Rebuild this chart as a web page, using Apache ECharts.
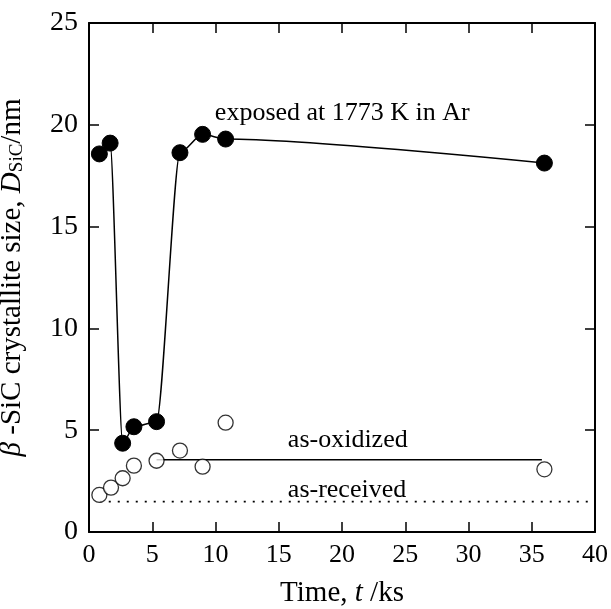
<!DOCTYPE html>
<html><head><meta charset="utf-8">
<script src="https://cdn.jsdelivr.net/npm/echarts@6/dist/echarts.min.js"></script>
<style>html,body{margin:0;padding:0;background:#fff}#c{width:611px;height:609px}</style>
</head><body><div id="c"></div>
<script>
var exposedT = [0.82, 1.67, 2.66, 3.55, 5.34, 7.19, 8.98, 10.8, 36.0];
var exposedD = [18.57, 19.1, 4.36, 5.17, 5.42, 18.63, 19.53, 19.3, 18.12];
var oxidizedT = [0.82, 1.74, 2.66, 3.55, 5.34, 7.19, 8.98, 10.8, 36.0];
var oxidizedD = [1.82, 2.18, 2.64, 3.26, 3.5, 4.0, 3.21, 5.37, 3.08];
var oxidizedLevel = 3.55, oxidizedLineT = [5.34, 35.8];
var receivedLevel = 1.49, receivedLineT = [0.85, 40];
var xTicks = [0, 5, 10, 15, 20, 25, 30, 35, 40];
var yTicks = [0, 5, 10, 15, 20, 25];
var labels = [
  {text: 'exposed at 1773 K in Ar', t: 9.95, d: 20.58},
  {text: 'as-oxidized', t: 15.72, d: 4.52},
  {text: 'as-received', t: 15.72, d: 2.06}
];
var F = 'Liberation Serif, Times New Roman, serif';
function zip(a, b) { return a.map(function (v, i) { return [v, b[i]]; }); }
var chart = echarts.init(document.getElementById('c'));
var axisCommon = {
  axisLine: {show: true, onZero: false, lineStyle: {color: '#000', width: 2}},
  axisTick: {show: true, inside: true, length: 10, lineStyle: {color: '#000', width: 1.5}},
  splitLine: {show: false}
};
chart.setOption({
  backgroundColor: '#fff',
  animation: false,
  grid: {left: 89, top: 23, right: 16, bottom: 77, containLabel: false, outerBoundsMode: 'none'},
  xAxis: [
    Object.assign({type: 'value', min: 0, max: 40, interval: 5, position: 'bottom',
      axisLabel: {fontFamily: F, fontSize: 26, color: '#000', margin: 10},
      name: 'Time, {i|t} /ks', nameLocation: 'middle', nameGap: 47,
      nameTextStyle: {fontFamily: F, fontSize: 29, color: '#000',
        rich: {i: {fontFamily: F, fontSize: 29, fontStyle: 'italic', color: '#000'}}}
    }, axisCommon),
    Object.assign({type: 'value', min: 0, max: 40, interval: 5, position: 'top',
      axisLabel: {show: false}}, axisCommon)
  ],
  yAxis: [
    Object.assign({type: 'value', min: 0, max: 25, interval: 5, position: 'left',
      axisLabel: {fontFamily: F, fontSize: 28, color: '#000', margin: 11},
      name: '{i|β} -SiC crystallite size, {i|D}{s|SiC}/nm', nameLocation: 'middle', nameGap: 62,
      nameTextStyle: {fontFamily: F, fontSize: 29, color: '#000',
        rich: {
          i: {fontFamily: F, fontSize: 29, fontStyle: 'italic', color: '#000'},
          s: {fontFamily: F, fontSize: 19, color: '#000', padding: [10, 0, 0, 0]}
        }}
    }, axisCommon),
    Object.assign({type: 'value', min: 0, max: 25, interval: 5, position: 'right',
      axisLabel: {show: false}}, axisCommon)
  ],
  series: [
    {type: 'line', data: zip(exposedT, exposedD), smooth: 0.25, smoothMonotone: 'x',
      symbol: 'circle', symbolSize: 16, showAllSymbol: true,
      lineStyle: {color: '#000', width: 1.5},
      itemStyle: {color: '#000', borderColor: '#000'}, z: 3},
    {type: 'scatter', data: zip(oxidizedT, oxidizedD), symbol: 'circle', symbolSize: 15,
      itemStyle: {color: '#fff', borderColor: '#000', borderWidth: 1.3}, z: 4},
    {type: 'line', data: oxidizedLineT.map(function (t) { return [t, oxidizedLevel]; }),
      symbol: 'none', lineStyle: {color: '#000', width: 1.5}, z: 2},
    {type: 'line', data: receivedLineT.map(function (t) { return [t, receivedLevel]; }),
      symbol: 'none', lineStyle: {color: '#000', width: 1.8, type: [2, 7]}, z: 2},
    {type: 'scatter', data: labels.map(function (l) { return {value: [l.t, l.d], name: l.text}; }),
      symbolSize: 0, silent: true,
      label: {show: true, position: 'right', distance: 0, formatter: '{b}',
        fontFamily: F, fontSize: 26, color: '#000', textBorderWidth: 0, opacity: 1}}
  ]
});
</script></body></html>
